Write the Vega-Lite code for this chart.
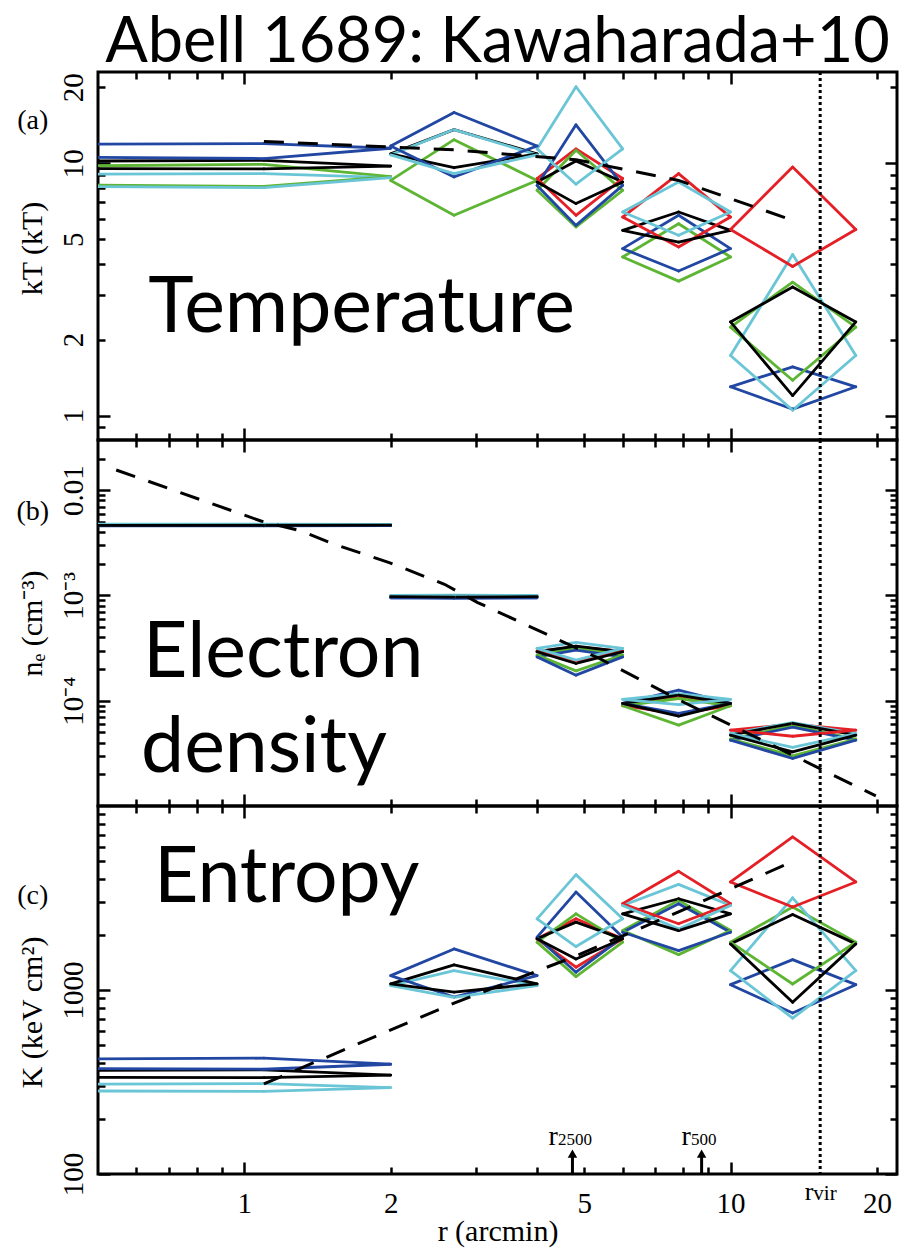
{
  "$schema": "https://vega.github.io/schema/vega-lite/v6.json",
  "padding": {"left": 14, "top": 12, "right": 2, "bottom": 0},
  "title": {"text": "Abell 1689: Kawaharada+10", "font": "Lato", "fontSize": 63, "fontWeight": "normal", "anchor": "middle", "frame": "group", "offset": -6, "color": "black"},
  "spacing": 0,
  "bounds": "flush",
  "config": {
    "view": {"stroke": "black", "strokeWidth": 3},
    "axis": {"grid": false, "domain": false, "labelFont": "Liberation Serif", "titleFont": "Liberation Serif", "labelColor": "black", "titleColor": "black", "tickColor": "black", "tickWidth": 2.5, "titleFontWeight": "normal", "labelFontSize": 29, "titleFontSize": 30, "labelOverlap": false, "labelFlush": false, "labelBound": false, "minExtent": 0}
  },
  "datasets": {
    "kt": [
      {"s":"green","x0":0.001,"xc":1.097,"x1":2,"v":8.86,"lo":8.1,"hi":9.9},
      {"s":"blue","x0":0.001,"xc":1.097,"x1":2,"v":11.47,"lo":10.44,"hi":11.97},
      {"s":"cyan","x0":0.001,"xc":1.097,"x1":2,"v":8.77,"lo":8.0,"hi":9.1},
      {"s":"black","x0":0.001,"xc":1.097,"x1":2,"v":9.75,"lo":9.5,"hi":10.27},
      {"s":"black","x0":2,"xc":2.70,"x1":4,"v":10.9,"lo":9.6,"hi":13.6},
      {"s":"green","x0":2,"xc":2.70,"x1":4,"v":8.55,"lo":6.22,"hi":12.4},
      {"s":"blue","x0":2,"xc":2.70,"x1":4,"v":11.7,"lo":8.83,"hi":15.9},
      {"s":"cyan","x0":2,"xc":2.70,"x1":4,"v":10.8,"lo":9.1,"hi":13.6},
      {"s":"red","x0":4,"xc":4.81,"x1":6,"v":8.7,"lo":6.22,"hi":11.4},
      {"s":"green","x0":4,"xc":4.81,"x1":6,"v":7.81,"lo":5.59,"hi":11.26},
      {"s":"blue","x0":4,"xc":4.81,"x1":6,"v":8.17,"lo":5.67,"hi":14.2},
      {"s":"cyan","x0":4,"xc":4.81,"x1":6,"v":11.4,"lo":8.26,"hi":20.1},
      {"s":"black","x0":4,"xc":4.81,"x1":6,"v":8.43,"lo":6.92,"hi":10.2},
      {"s":"red","x0":6,"xc":7.82,"x1":10,"v":6.12,"lo":4.66,"hi":9.1},
      {"s":"green","x0":6,"xc":7.82,"x1":10,"v":4.25,"lo":3.41,"hi":5.76},
      {"s":"blue","x0":6,"xc":7.82,"x1":10,"v":4.59,"lo":3.74,"hi":6.22},
      {"s":"cyan","x0":6,"xc":7.82,"x1":10,"v":6.41,"lo":5.18,"hi":8.43},
      {"s":"black","x0":6,"xc":7.82,"x1":10,"v":5.42,"lo":4.87,"hi":6.41},
      {"s":"red","x0":10,"xc":13.42,"x1":18.1,"v":5.46,"lo":3.9,"hi":9.67},
      {"s":"green","x0":10,"xc":13.42,"x1":18.1,"v":2.24,"lo":1.38,"hi":3.38},
      {"s":"blue","x0":10,"xc":13.42,"x1":18.1,"v":1.30,"lo":1.06,"hi":1.56},
      {"s":"cyan","x0":10,"xc":13.42,"x1":18.1,"v":1.73,"lo":1.05,"hi":4.35},
      {"s":"black","x0":10,"xc":13.42,"x1":18.1,"v":2.35,"lo":1.2,"hi":3.23}
    ],
    "ne": [
      {"s":"green","x0":0.001,"xc":1.097,"x1":2,"v":0.00466,"lo":0.00464,"hi":0.00468},
      {"s":"blue","x0":0.001,"xc":1.097,"x1":2,"v":0.0046,"lo":0.00458,"hi":0.00462},
      {"s":"cyan","x0":0.001,"xc":1.097,"x1":2,"v":0.00474,"lo":0.00472,"hi":0.00476},
      {"s":"black","x0":0.001,"xc":1.097,"x1":2,"v":0.00466,"lo":0.00464,"hi":0.00468},
      {"s":"green","x0":2,"xc":2.70,"x1":4,"v":0.000975,"lo":0.000965,"hi":0.000985},
      {"s":"blue","x0":2,"xc":2.70,"x1":4,"v":0.00095,"lo":0.00094,"hi":0.00096},
      {"s":"cyan","x0":2,"xc":2.70,"x1":4,"v":0.001,"lo":0.00099,"hi":0.00101},
      {"s":"black","x0":2,"xc":2.70,"x1":4,"v":0.000975,"lo":0.000965,"hi":0.000985},
      {"s":"red","x0":4,"xc":4.81,"x1":6,"v":0.000295,"lo":0.000235,"hi":0.000325},
      {"s":"green","x0":4,"xc":4.81,"x1":6,"v":0.000271,"lo":0.000192,"hi":0.00032},
      {"s":"blue","x0":4,"xc":4.81,"x1":6,"v":0.000261,"lo":0.000175,"hi":0.000302},
      {"s":"cyan","x0":4,"xc":4.81,"x1":6,"v":0.000314,"lo":0.000243,"hi":0.000358},
      {"s":"black","x0":4,"xc":4.81,"x1":6,"v":0.000292,"lo":0.000226,"hi":0.00033},
      {"s":"red","x0":6,"xc":7.82,"x1":10,"v":0.00009,"lo":0.000075,"hi":0.00011},
      {"s":"green","x0":6,"xc":7.82,"x1":10,"v":0.0000896,"lo":0.0000587,"hi":0.000105},
      {"s":"blue","x0":6,"xc":7.82,"x1":10,"v":0.0000942,"lo":0.0000757,"hi":0.000126},
      {"s":"cyan","x0":6,"xc":7.82,"x1":10,"v":0.000103,"lo":0.000092,"hi":0.000117},
      {"s":"black","x0":6,"xc":7.82,"x1":10,"v":0.0000942,"lo":0.0000714,"hi":0.000113},
      {"s":"red","x0":10,"xc":13.42,"x1":18.1,"v":0.0000526,"lo":0.000046,"hi":0.00006},
      {"s":"green","x0":10,"xc":13.42,"x1":18.1,"v":0.0000433,"lo":0.00003,"hi":0.000058},
      {"s":"blue","x0":10,"xc":13.42,"x1":18.1,"v":0.0000422,"lo":0.0000283,"hi":0.000056},
      {"s":"cyan","x0":10,"xc":13.42,"x1":18.1,"v":0.0000488,"lo":0.000036,"hi":0.000062},
      {"s":"black","x0":10,"xc":13.42,"x1":18.1,"v":0.0000471,"lo":0.0000327,"hi":0.000061}
    ],
    "kk": [
      {"s":"blue","x0":0.001,"xc":1.097,"x1":2,"v":395,"lo":371,"hi":426},
      {"s":"cyan","x0":0.001,"xc":1.097,"x1":2,"v":295,"lo":281,"hi":310},
      {"s":"black","x0":0.001,"xc":1.097,"x1":2,"v":345,"lo":334,"hi":368},
      {"s":"blue","x0":2,"xc":2.70,"x1":4,"v":1197,"lo":916,"hi":1672},
      {"s":"cyan","x0":2,"xc":2.70,"x1":4,"v":1055,"lo":912,"hi":1274},
      {"s":"black","x0":2,"xc":2.70,"x1":4,"v":1080,"lo":975,"hi":1368},
      {"s":"red","x0":4,"xc":4.81,"x1":6,"v":1897,"lo":1330,"hi":2437},
      {"s":"green","x0":4,"xc":4.81,"x1":6,"v":1820,"lo":1182,"hi":2594},
      {"s":"blue","x0":4,"xc":4.81,"x1":6,"v":1937,"lo":1249,"hi":3405},
      {"s":"cyan","x0":4,"xc":4.81,"x1":6,"v":2437,"lo":1722,"hi":4236},
      {"s":"black","x0":4,"xc":4.81,"x1":6,"v":1897,"lo":1475,"hi":2338},
      {"s":"red","x0":6,"xc":7.82,"x1":10,"v":2943,"lo":2290,"hi":4416},
      {"s":"green","x0":6,"xc":7.82,"x1":10,"v":2104,"lo":1557,"hi":3069},
      {"s":"blue","x0":6,"xc":7.82,"x1":10,"v":2061,"lo":1637,"hi":2943},
      {"s":"cyan","x0":6,"xc":7.82,"x1":10,"v":2878,"lo":2148,"hi":3751},
      {"s":"black","x0":6,"xc":7.82,"x1":10,"v":2594,"lo":2104,"hi":3133},
      {"s":"red","x0":10,"xc":13.42,"x1":18.1,"v":3864,"lo":2826,"hi":6790},
      {"s":"green","x0":10,"xc":13.42,"x1":18.1,"v":1820,"lo":1078,"hi":2826},
      {"s":"blue","x0":10,"xc":13.42,"x1":18.1,"v":1069,"lo":750,"hi":1463},
      {"s":"cyan","x0":10,"xc":13.42,"x1":18.1,"v":1274,"lo":703,"hi":3170},
      {"s":"black","x0":10,"xc":13.42,"x1":18.1,"v":1781,"lo":857,"hi":2572}
    ],
    "kt_model": [
      {"r":1.097,"v":12.2},{"r":2.70,"v":11.3},{"r":4.81,"v":10.33},{"r":7.82,"v":8.55},{"r":13.42,"v":5.94}
    ],
    "ne_model": [
      {"r":0.545,"v":0.01557},{"r":1.082,"v":0.0051},{"r":1.308,"v":0.0041},{"r":1.531,"v":0.00307},{"r":1.986,"v":0.002055},{"r":2.58,"v":0.001278},{"r":3.02,"v":0.000857},{"r":5.41,"v":0.000248},{"r":8.03,"v":0.0000962},{"r":13.74,"v":0.0000289},{"r":15.34,"v":0.0000224},{"r":19.9,"v":0.00001248}
    ],
    "kk_model": [
      {"r":1.097,"v":309},{"r":2.70,"v":849},{"r":4.81,"v":1531},{"r":7.82,"v":2661},{"r":13.42,"v":4990}
    ],
    "rvir": [{"r": 15.29}]
  },
  "vconcat": [
    {
      "width": 799, "height": 368,
      "resolve": {"axis": {"x": "independent", "y": "independent"}},
      "layer": [
        {"data": {"name": "kt"}, "mark": {"type": "rule", "strokeWidth": 2.8, "strokeCap": "round", "clip": true},
         "encoding": {
           "x": {"field": "x0", "type": "quantitative", "scale": {"type": "log", "domain": [0.5, 22], "nice": false},
                 "axis": {"orient": "bottom", "values": [0.6,0.7,0.8,0.9,1,2,3,4,5,6,7,8,9,10,20], "labels": false, "title": null,
                          "tickSize": {"condition": {"test": "datum.value == 1 || datum.value == 10", "value": -12}, "value": -7}}},
           "x2": {"field": "xc"},
           "y": {"field": "v", "type": "quantitative", "scale": {"type": "log", "domain": [0.8, 23], "nice": false},
                 "axis": {"orient": "left", "values": [0.9,1,2,3,4,5,6,7,8,9,10,20], "title": "kT (kT)", "titlePadding": 12, "titleY": 176,
                          "labelExpr": "indexof([1,2,5,10,20], datum.value) >= 0 ? format(datum.value, '~g') : ''",
                          "labelAngle": -90, "labelAlign": "center", "labelBaseline": "alphabetic",
                          "tickSize": {"condition": {"test": "datum.value == 1 || datum.value == 10", "value": -12}, "value": -7},
                          "labelPadding": {"condition": {"test": "datum.value == 1 || datum.value == 10", "value": 28}, "value": 23}}},
           "y2": {"field": "hi"},
           "color": {"field": "s", "type": "nominal", "scale": {"domain": ["red","green","blue","cyan","black"], "range": ["#e41f26","#5db533","#2147a3","#6ac6d6","#000000"]}, "legend": null}
         }},
        {"data": {"name": "kt"}, "mark": {"type": "rule", "strokeWidth": 2.8, "strokeCap": "round", "clip": true},
         "encoding": {"x": {"field": "xc", "type": "quantitative", "axis": null}, "x2": {"field": "x1"},
                      "y": {"field": "hi", "type": "quantitative", "axis": null}, "y2": {"field": "v"},
                      "color": {"field": "s", "type": "nominal", "legend": null}}},
        {"data": {"name": "kt"}, "mark": {"type": "rule", "strokeWidth": 2.8, "strokeCap": "round", "clip": true},
         "encoding": {"x": {"field": "x1", "type": "quantitative", "axis": null}, "x2": {"field": "xc"},
                      "y": {"field": "v", "type": "quantitative", "axis": null}, "y2": {"field": "lo"},
                      "color": {"field": "s", "type": "nominal", "legend": null}}},
        {"data": {"name": "kt"}, "mark": {"type": "rule", "strokeWidth": 2.8, "strokeCap": "round", "clip": true},
         "encoding": {"x": {"field": "xc", "type": "quantitative", "axis": null}, "x2": {"field": "x0"},
                      "y": {"field": "lo", "type": "quantitative", "axis": null}, "y2": {"field": "v"},
                      "color": {"field": "s", "type": "nominal", "legend": null}}},
        {"data": {"name": "kt_model"}, "mark": {"type": "line", "color": "black", "strokeWidth": 3, "strokeDash": [20, 14], "clip": true},
         "encoding": {"x": {"field": "r", "type": "quantitative",
                            "axis": {"orient": "top", "values": [0.6,0.7,0.8,0.9,1,2,3,4,5,6,7,8,9,10,20], "labels": false, "title": null,
                                     "tickSize": {"condition": {"test": "datum.value == 1 || datum.value == 10", "value": -12}, "value": -7}}},
                      "y": {"field": "v", "type": "quantitative",
                            "axis": {"orient": "right", "values": [0.9,1,2,3,4,5,6,7,8,9,10,20], "labels": false, "title": null,
                                     "tickSize": {"condition": {"test": "datum.value == 1 || datum.value == 10", "value": -12}, "value": -7}}}}},
        {"data": {"name": "rvir"}, "mark": {"type": "rule", "color": "black", "strokeWidth": 3, "strokeDash": [3, 3]},
         "encoding": {"x": {"field": "r", "type": "quantitative", "axis": null}}},
        {"data": {"values": [{"t": "Temperature", "r": 0.634, "v": 2.14}]},
         "mark": {"type": "text", "font": "Lato", "fontSize": 77, "align": "left", "baseline": "alphabetic", "color": "black"},
         "encoding": {"x": {"field": "r", "type": "quantitative", "axis": null}, "y": {"field": "v", "type": "quantitative", "axis": null}, "text": {"field": "t"}}},
        {"data": {"values": [{"t": "(a)", "r": 0.367, "v": 14.7}]},
         "mark": {"type": "text", "font": "Liberation Serif", "fontSize": 28, "align": "center", "baseline": "middle", "color": "black"},
         "encoding": {"x": {"field": "r", "type": "quantitative", "axis": null}, "y": {"field": "v", "type": "quantitative", "axis": null}, "text": {"field": "t"}}}
      ]
    },
    {
      "width": 799, "height": 366,
      "resolve": {"axis": {"x": "independent", "y": "independent"}},
      "layer": [
        {"data": {"name": "ne"}, "mark": {"type": "rule", "strokeWidth": 2.8, "strokeCap": "round", "clip": true},
         "encoding": {
           "x": {"field": "x0", "type": "quantitative", "scale": {"type": "log", "domain": [0.5, 22], "nice": false},
                 "axis": {"orient": "bottom", "values": [0.6,0.7,0.8,0.9,1,2,3,4,5,6,7,8,9,10,20], "labels": false, "title": null,
                          "tickSize": {"condition": {"test": "datum.value == 1 || datum.value == 10", "value": -12}, "value": -7}}},
           "x2": {"field": "xc"},
           "y": {"field": "v", "type": "quantitative", "scale": {"type": "log", "domain": [0.00001, 0.03], "nice": false},
                 "axis": {"orient": "left", "values": [0.00002,0.00003,0.00004,0.00005,0.00006,0.00007,0.00008,0.00009,0.0001,0.0002,0.0003,0.0004,0.0005,0.0006,0.0007,0.0008,0.0009,0.001,0.002,0.003,0.004,0.005,0.006,0.007,0.008,0.009,0.01,0.02],
                          "title": "nₑ (cm⁻³)", "titlePadding": 12,
                          "labelExpr": "datum.value == 0.01 ? '0.01' : datum.value == 0.001 ? '10⁻³' : datum.value == 0.0001 ? '10⁻⁴' : ''",
                          "labelAngle": -90, "labelAlign": "center", "labelBaseline": "alphabetic",
                          "tickSize": {"condition": {"test": "datum.value == 0.01 || datum.value == 0.001 || datum.value == 0.0001", "value": -12}, "value": -7},
                          "labelPadding": {"condition": {"test": "datum.value == 0.01 || datum.value == 0.001 || datum.value == 0.0001", "value": 28}, "value": 23}}},
           "y2": {"field": "hi"},
           "color": {"field": "s", "type": "nominal", "scale": {"domain": ["red","green","blue","cyan","black"], "range": ["#e41f26","#5db533","#2147a3","#6ac6d6","#000000"]}, "legend": null}
         }},
        {"data": {"name": "ne"}, "mark": {"type": "rule", "strokeWidth": 2.8, "strokeCap": "round", "clip": true},
         "encoding": {"x": {"field": "xc", "type": "quantitative", "axis": null}, "x2": {"field": "x1"},
                      "y": {"field": "hi", "type": "quantitative", "axis": null}, "y2": {"field": "v"},
                      "color": {"field": "s", "type": "nominal", "legend": null}}},
        {"data": {"name": "ne"}, "mark": {"type": "rule", "strokeWidth": 2.8, "strokeCap": "round", "clip": true},
         "encoding": {"x": {"field": "x1", "type": "quantitative", "axis": null}, "x2": {"field": "xc"},
                      "y": {"field": "v", "type": "quantitative", "axis": null}, "y2": {"field": "lo"},
                      "color": {"field": "s", "type": "nominal", "legend": null}}},
        {"data": {"name": "ne"}, "mark": {"type": "rule", "strokeWidth": 2.8, "strokeCap": "round", "clip": true},
         "encoding": {"x": {"field": "xc", "type": "quantitative", "axis": null}, "x2": {"field": "x0"},
                      "y": {"field": "lo", "type": "quantitative", "axis": null}, "y2": {"field": "v"},
                      "color": {"field": "s", "type": "nominal", "legend": null}}},
        {"data": {"name": "ne_model"}, "mark": {"type": "line", "color": "black", "strokeWidth": 3, "strokeDash": [20, 14], "clip": true},
         "encoding": {"x": {"field": "r", "type": "quantitative",
                            "axis": {"orient": "top", "values": [0.6,0.7,0.8,0.9,1,2,3,4,5,6,7,8,9,10,20], "labels": false, "title": null,
                                     "tickSize": {"condition": {"test": "datum.value == 1 || datum.value == 10", "value": -12}, "value": -7}}},
                      "y": {"field": "v", "type": "quantitative",
                            "axis": {"orient": "right", "values": [0.00002,0.00003,0.00004,0.00005,0.00006,0.00007,0.00008,0.00009,0.0001,0.0002,0.0003,0.0004,0.0005,0.0006,0.0007,0.0008,0.0009,0.001,0.002,0.003,0.004,0.005,0.006,0.007,0.008,0.009,0.01,0.02], "labels": false, "title": null,
                                     "tickSize": {"condition": {"test": "datum.value == 0.01 || datum.value == 0.001 || datum.value == 0.0001", "value": -12}, "value": -7}}}}},
        {"data": {"name": "rvir"}, "mark": {"type": "rule", "color": "black", "strokeWidth": 3, "strokeDash": [3, 3]},
         "encoding": {"x": {"field": "r", "type": "quantitative", "axis": null}}},
        {"data": {"values": [{"t": "Electron", "r": 0.619, "v": 0.0001673}, {"t": "density", "r": 0.613, "v": 0.0000209}]},
         "mark": {"type": "text", "font": "Lato", "fontSize": 77, "align": "left", "baseline": "alphabetic", "color": "black"},
         "encoding": {"x": {"field": "r", "type": "quantitative", "axis": null}, "y": {"field": "v", "type": "quantitative", "axis": null}, "text": {"field": "t"}}},
        {"data": {"values": [{"t": "(b)", "r": 0.367, "v": 0.00617}]},
         "mark": {"type": "text", "font": "Liberation Serif", "fontSize": 28, "align": "center", "baseline": "middle", "color": "black"},
         "encoding": {"x": {"field": "r", "type": "quantitative", "axis": null}, "y": {"field": "v", "type": "quantitative", "axis": null}, "text": {"field": "t"}}}
      ]
    },
    {
      "width": 799, "height": 368,
      "resolve": {"axis": {"x": "independent", "y": "independent"}},
      "layer": [
        {"data": {"name": "kk"}, "mark": {"type": "rule", "strokeWidth": 2.8, "strokeCap": "round", "clip": true},
         "encoding": {
           "x": {"field": "x0", "type": "quantitative", "scale": {"type": "log", "domain": [0.5, 22], "nice": false},
                 "axis": {"orient": "bottom", "values": [0.6,0.7,0.8,0.9,1,2,3,4,5,6,7,8,9,10,20], "title": "r (arcmin)", "titlePadding": 22, "titleBaseline": "alphabetic",
                          "labelExpr": "indexof([1,2,5,10,20], datum.value) >= 0 ? format(datum.value, '~g') : ''",
                          "labelBaseline": "alphabetic",
                          "tickSize": {"condition": {"test": "datum.value == 1 || datum.value == 10", "value": -12}, "value": -7},
                          "labelPadding": {"condition": {"test": "datum.value == 1 || datum.value == 10", "value": 50}, "value": 45}}},
           "x2": {"field": "xc"},
           "y": {"field": "v", "type": "quantitative", "scale": {"type": "log", "domain": [100, 10000], "nice": false},
                 "axis": {"orient": "left", "values": [100,200,300,400,500,600,700,800,900,1000,2000,3000,4000,5000,6000,7000,8000,9000],
                          "title": "K (keV cm²)", "titlePadding": 12, "titleY": 206,
                          "labelExpr": "datum.value == 100 || datum.value == 1000 ? format(datum.value, 'd') : ''",
                          "labelAngle": -90, "labelAlign": "center", "labelBaseline": "alphabetic",
                          "tickSize": {"condition": {"test": "datum.value == 100 || datum.value == 1000", "value": -12}, "value": -7},
                          "labelPadding": {"condition": {"test": "datum.value == 100 || datum.value == 1000", "value": 28}, "value": 23}}},
           "y2": {"field": "hi"},
           "color": {"field": "s", "type": "nominal", "scale": {"domain": ["red","green","blue","cyan","black"], "range": ["#e41f26","#5db533","#2147a3","#6ac6d6","#000000"]}, "legend": null}
         }},
        {"data": {"name": "kk"}, "mark": {"type": "rule", "strokeWidth": 2.8, "strokeCap": "round", "clip": true},
         "encoding": {"x": {"field": "xc", "type": "quantitative", "axis": null}, "x2": {"field": "x1"},
                      "y": {"field": "hi", "type": "quantitative", "axis": null}, "y2": {"field": "v"},
                      "color": {"field": "s", "type": "nominal", "legend": null}}},
        {"data": {"name": "kk"}, "mark": {"type": "rule", "strokeWidth": 2.8, "strokeCap": "round", "clip": true},
         "encoding": {"x": {"field": "x1", "type": "quantitative", "axis": null}, "x2": {"field": "xc"},
                      "y": {"field": "v", "type": "quantitative", "axis": null}, "y2": {"field": "lo"},
                      "color": {"field": "s", "type": "nominal", "legend": null}}},
        {"data": {"name": "kk"}, "mark": {"type": "rule", "strokeWidth": 2.8, "strokeCap": "round", "clip": true},
         "encoding": {"x": {"field": "xc", "type": "quantitative", "axis": null}, "x2": {"field": "x0"},
                      "y": {"field": "lo", "type": "quantitative", "axis": null}, "y2": {"field": "v"},
                      "color": {"field": "s", "type": "nominal", "legend": null}}},
        {"data": {"name": "kk_model"}, "mark": {"type": "line", "color": "black", "strokeWidth": 3, "strokeDash": [20, 14], "clip": true},
         "encoding": {"x": {"field": "r", "type": "quantitative",
                            "axis": {"orient": "top", "values": [0.6,0.7,0.8,0.9,1,2,3,4,5,6,7,8,9,10,20], "labels": false, "title": null,
                                     "tickSize": {"condition": {"test": "datum.value == 1 || datum.value == 10", "value": -12}, "value": -7}}},
                      "y": {"field": "v", "type": "quantitative",
                            "axis": {"orient": "right", "values": [100,200,300,400,500,600,700,800,900,1000,2000,3000,4000,5000,6000,7000,8000,9000], "labels": false, "title": null,
                                     "tickSize": {"condition": {"test": "datum.value == 100 || datum.value == 1000", "value": -12}, "value": -7}}}}},
        {"data": {"name": "rvir"}, "mark": {"type": "rule", "color": "black", "strokeWidth": 3, "strokeDash": [3, 3]},
         "encoding": {"x": {"field": "r", "type": "quantitative", "axis": null}}},
        {"data": {"values": [{"t": "Entropy", "r": 0.652, "v": 2990}]},
         "mark": {"type": "text", "font": "Lato", "fontSize": 77, "align": "left", "baseline": "alphabetic", "color": "black"},
         "encoding": {"x": {"field": "r", "type": "quantitative", "axis": null}, "y": {"field": "v", "type": "quantitative", "axis": null}, "text": {"field": "t"}}},
        {"data": {"values": [{"t": "(c)", "r": 0.367, "v": 3227}]},
         "mark": {"type": "text", "font": "Liberation Serif", "fontSize": 28, "align": "center", "baseline": "middle", "color": "black"},
         "encoding": {"x": {"field": "r", "type": "quantitative", "axis": null}, "y": {"field": "v", "type": "quantitative", "axis": null}, "text": {"field": "t"}}},
        {"data": {"values": [{"r": 4.73, "k0": 100, "k1": 128}, {"r": 8.72, "k0": 100, "k1": 128}]},
         "mark": {"type": "rule", "color": "black", "strokeWidth": 3},
         "encoding": {"x": {"field": "r", "type": "quantitative", "axis": null}, "y": {"field": "k0", "type": "quantitative", "axis": null}, "y2": {"field": "k1"}}},
        {"data": {"values": [{"r": 4.73, "k1": 129}, {"r": 8.72, "k1": 129}]},
         "mark": {"type": "point", "shape": "triangle-up", "filled": true, "color": "black", "size": 90, "opacity": 1},
         "encoding": {"x": {"field": "r", "type": "quantitative", "axis": null}, "y": {"field": "k1", "type": "quantitative", "axis": null}}},
        {"data": {"values": [{"t": "r", "r": 4.415, "v": 143}, {"t": "r", "r": 8.29, "v": 143}]},
         "mark": {"type": "text", "font": "Liberation Serif", "fontSize": 28, "align": "right", "baseline": "alphabetic", "color": "black"},
         "encoding": {"x": {"field": "r", "type": "quantitative", "axis": null}, "y": {"field": "v", "type": "quantitative", "axis": null}, "text": {"field": "t"}}},
        {"data": {"values": [{"t": "2500", "r": 4.415, "v": 143}, {"t": "500", "r": 8.29, "v": 143}]},
         "mark": {"type": "text", "font": "Liberation Serif", "fontSize": 17, "align": "left", "baseline": "alphabetic", "color": "black"},
         "encoding": {"x": {"field": "r", "type": "quantitative", "axis": null}, "y": {"field": "v", "type": "quantitative", "axis": null}, "text": {"field": "t"}}},
        {"data": {"values": [{"t": "r", "r": 14.8, "v": 72.4}]},
         "mark": {"type": "text", "font": "Liberation Serif", "fontSize": 26, "align": "right", "baseline": "alphabetic", "color": "black"},
         "encoding": {"x": {"field": "r", "type": "quantitative", "axis": null}, "y": {"field": "v", "type": "quantitative", "axis": null}, "text": {"field": "t"}}},
        {"data": {"values": [{"t": "vir", "r": 14.8, "v": 72.4}]},
         "mark": {"type": "text", "font": "Liberation Serif", "fontSize": 21, "align": "left", "baseline": "alphabetic", "color": "black"},
         "encoding": {"x": {"field": "r", "type": "quantitative", "axis": null}, "y": {"field": "v", "type": "quantitative", "axis": null}, "text": {"field": "t"}}}
      ]
    }
  ]
}
